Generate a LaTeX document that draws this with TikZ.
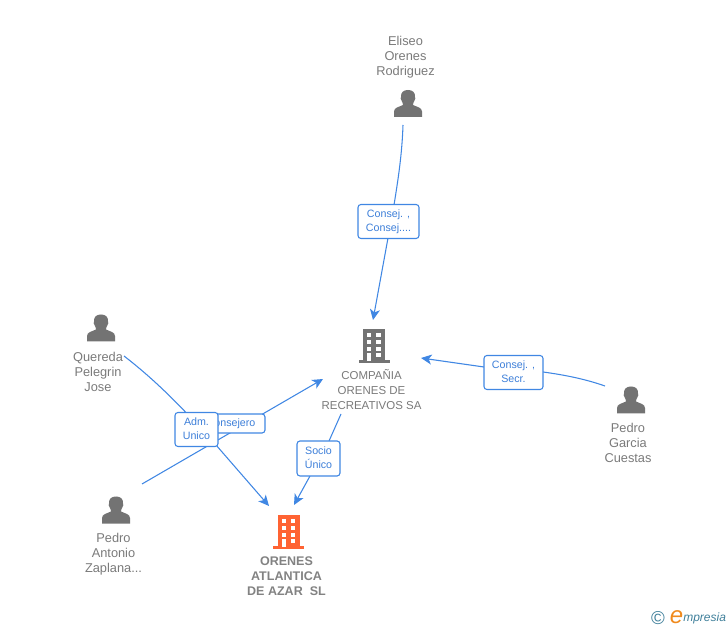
\documentclass[tikz,border=0pt]{standalone}
\usepackage{fontspec}
\setmainfont{Liberation Sans}
\usetikzlibrary{arrows.meta}
\definecolor{linkblue}{HTML}{4087E3}
\definecolor{labelblue}{HTML}{3D7FD9}
\definecolor{icongray}{HTML}{737373}
\definecolor{textgray}{HTML}{7A7A7A}
\definecolor{maingray}{HTML}{828282}
\definecolor{firmorange}{HTML}{FF6333}
\definecolor{logoteal}{HTML}{3F7F9A}
\definecolor{logoorange}{HTML}{F08A1D}
\tikzset{
  x=0.75pt,y=-0.75pt,
  link/.style={draw=linkblue,line width=0.8pt},
  arrowlink/.style={link,-{Stealth[length=8pt,width=7.5pt,inset=2.2pt]}},
  rolebox/.style={draw=linkblue,fill=white,line width=0.8pt,rounded corners=2.2pt,text=labelblue,
    font=\fontsize{8}{11.2}\selectfont,align=center,inner sep=0pt,anchor=center},
  entity/.style={text=textgray,font=\fontsize{9.6}{11.25}\selectfont,align=center,anchor=north,inner sep=0pt},
  firm/.style={text=textgray,font=\fontsize{8.6}{11.25}\selectfont,align=center,anchor=north,inner sep=0pt},
  mainfirm/.style={text=maingray,font=\bfseries\fontsize{9.4}{11.25}\selectfont,align=center,anchor=north,inner sep=0pt},
  person/.pic={
    \fill[icongray] (-14,13.5) -- (-14,8) .. controls (-14,4) and (-9,3.5) .. (-5,1.5)
      .. controls (-5,0) and (-5.5,-1) .. (-6.5,-3) .. controls (-7.5,-4) and (-7.5,-5.5) .. (-7,-6.5)
      .. controls (-7.5,-11.5) and (-4,-13.5) .. (0,-13.5) .. controls (4,-13.5) and (7.5,-11.5) .. (7,-6.5)
      .. controls (7.5,-5.5) and (7.5,-4) .. (6.5,-3) .. controls (5.5,-1) and (5,0) .. (5,1.5)
      .. controls (9,3.5) and (14,4) .. (14,8) -- (14,13.5) -- cycle;
  },
  building/.pic={
    \fill[pic actions] (-11,-17) rectangle (11,15);
    \fill[pic actions] (-15.5,14) rectangle (15.5,17);
    \foreach \yy in {-13,-6,1}{
      \fill[white] (-7,\yy) rectangle (-3,\yy+4);
      \fill[white] (2,\yy) rectangle (6.5,\yy+4);
    }
    \fill[white] (-7,7.5) rectangle (-3,15);
    \fill[white] (2,7.5) rectangle (6.5,11.5);
  },
}
\begin{document}
\begin{tikzpicture}
\useasboundingbox (0,0) rectangle (728,630);
% connector ends
\coordinate (eliseoEnd) at (403,125);
\coordinate (compTop) at (373,320);
\coordinate (compLeft) at (323,379);
\coordinate (compRight) at (421,358);
\coordinate (compBottom) at (341,414);
\coordinate (garciaEnd) at (605,386);
\coordinate (queredaEnd) at (124,356);
\coordinate (zaplanaEnd) at (142,484);
\coordinate (orenesA) at (269,506);
\coordinate (orenesB) at (294,505);
% connectors, drawn below the role boxes
\draw[link] (eliseoEnd) .. controls (402,155) and (398,180) .. (394,205);
\draw[arrowlink] (388,238) -- (compTop);
\draw[link] (garciaEnd) .. controls (585,379) and (565,375) .. (543,372);
\draw[arrowlink] (484,367) -- (compRight);
\draw[arrowlink] (zaplanaEnd) -- (compLeft);
\draw[arrowlink] (queredaEnd) .. controls (155,380) and (180,405) .. (216,445) -- (orenesA);
\draw[link] (compBottom) -- (329,441);
\draw[arrowlink] (310,476) -- (orenesB);
% role boxes
\node[rolebox,minimum width=61pt*0.75,minimum height=34pt*0.75] (roleEliseo) at (388.5,221.5) {\strut Consej. ,\\\strut Consej....};
\node[rolebox,minimum width=59pt*0.75,minimum height=34pt*0.75] (roleGarcia) at (513.5,372.5) {\strut Consej. ,\\\strut Secr.};
\node[rolebox,minimum width=68pt*0.75,minimum height=19pt*0.75] (roleConsejero) at (231,423.5) {Consejero};
\node[rolebox,minimum width=43pt*0.75,minimum height=34pt*0.75] (roleAdm) at (196.5,429.5) {\strut Adm.\\\strut Unico};
\node[rolebox,minimum width=43pt*0.75,minimum height=35pt*0.75] (roleSocio) at (318.5,458.5) {\strut Socio\\\strut Único};
% icons
\pic at (408,103.5) {person};
\pic at (101,328) {person};
\pic at (631,400) {person};
\pic at (116,510) {person};
\pic[fill=icongray] at (374,346) {building};
\pic[fill=firmorange] at (288.5,531.5) {building};
% entity texts
\node[entity] (eliseo) at (405.5,36) {Eliseo\\Orenes\\Rodriguez};
\node[entity] (quereda) at (98,351.5) {Quereda\\Pelegrin\\Jose};
\node[entity] (garcia) at (628,422.5) {Pedro\\Garcia\\Cuestas};
\node[entity] (zaplana) at (113.5,532.5) {Pedro\\Antonio\\Zaplana...};
\node[firm] (compania) at (371.5,369.5) {COMPAÑIA\\ORENES DE\\RECREATIVOS SA};
\node[mainfirm] (orenes) at (286.5,556.5) {ORENES\\ATLANTICA\\DE AZAR\ \ SL};
% logo
\node[inner sep=0pt,text=logoteal,font=\fontsize{14}{14}\selectfont] (logoC) at (658,618.5) {©};
\node[inner sep=0pt,text=logoorange,font=\itshape\fontsize{18}{18}\selectfont] (logoE) at (676.5,617) {e};
\node[inner sep=0pt,anchor=west,text=logoteal,font=\itshape\fontsize{9}{10}\selectfont] (logoM) at (683,618) {mpresia};
\end{tikzpicture}
\end{document}
